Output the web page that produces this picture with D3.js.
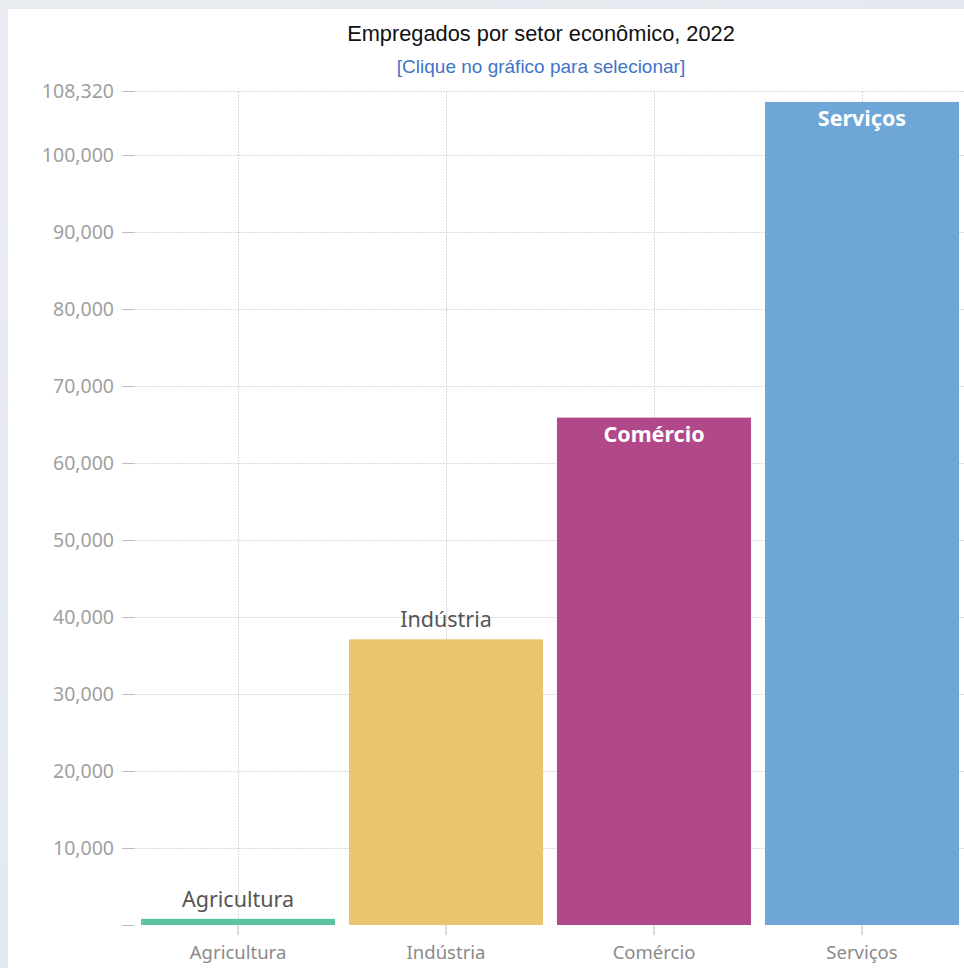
<!DOCTYPE html>
<html><head><meta charset="utf-8">
<script src="https://cdn.jsdelivr.net/npm/d3@7/dist/d3.min.js"></script>
<style>
html,body{margin:0;padding:0;background:#e6eaef;}
svg{display:block;}
</style></head>
<body>
<script>
const categories = ["Agricultura", "Indústria", "Comércio", "Serviços"];
const values = [800, 37100, 65900, 106900];
const colors = ["#5cc4a0", "#ebc46f", "#b0488a", "#6fa6d8"];
const yTicks = [10000, 20000, 30000, 40000, 50000, 60000, 70000, 80000, 90000, 100000, 108320];
const yMax = 108320;
const title = "Empregados por setor econômico, 2022";
const subtitle = "[Clique no gráfico para selecionar]";

const W = 964, H = 968;
const svg = d3.select("body").append("svg").attr("width", W).attr("height", H);

const defs = svg.append("defs");
const grad = defs.append("linearGradient").attr("id","bg").attr("x1","0").attr("y1","0").attr("x2","1").attr("y2","1");
grad.append("stop").attr("offset","0%").attr("stop-color","#e9edf2");
grad.append("stop").attr("offset","100%").attr("stop-color","#dfe5ec");
svg.append("rect").attr("width",W).attr("height",H).attr("fill","url(#bg)");
svg.append("rect").attr("x",8).attr("y",9).attr("width",W-8).attr("height",H-9).attr("fill","#ffffff");

const x = d3.scaleBand().domain(categories).range([134, 966]).paddingInner(0.067).paddingOuter(0.0337);
const y = d3.scaleLinear().domain([0, yMax]).range([925, 91]);

const sans = "Noto Sans, Open Sans, sans-serif";

// title
svg.append("text").attr("x", 541).attr("y", 41).attr("text-anchor","middle")
  .attr("font-family","Liberation Sans, Arial, sans-serif").attr("font-size",21.8).attr("fill","#111").text(title);
svg.append("text").attr("x", 541).attr("y", 73).attr("text-anchor","middle")
  .attr("font-family","Liberation Sans, Arial, sans-serif").attr("font-size",19).attr("fill","#3f74c8").text(subtitle);

// grid
const grid = svg.append("g");
grid.selectAll("line.h").data(yTicks).join("line")
  .attr("x1",134).attr("x2",W).attr("y1",d=>y(d)+0.5).attr("y2",d=>y(d)+0.5)
  .attr("stroke","#d9d9d9").attr("stroke-dasharray","2,1");
grid.selectAll("line.v").data(categories).join("line")
  .attr("x1",d=>x(d)+x.bandwidth()/2+0.5).attr("x2",d=>x(d)+x.bandwidth()/2+0.5)
  .attr("y1",91).attr("y2",925).attr("stroke","#d9d9d9").attr("stroke-dasharray","2,1");

// y axis
const yAxis = d3.axisLeft(y).tickValues([0].concat(yTicks)).tickSize(12).tickPadding(8)
  .tickFormat(d => d === 0 ? "" : d3.format(",")(d));
const ya = svg.append("g").attr("transform","translate(134,0)").call(yAxis);
ya.select(".domain").remove();
ya.selectAll(".tick line").attr("stroke","#bbb");
ya.selectAll(".tick text").attr("fill","#a0a0a0").attr("font-family",sans).attr("font-size",19.5);

// bars
svg.selectAll("rect.bar").data(categories).join("rect").attr("class","bar")
  .attr("x", d=>x(d)).attr("width", x.bandwidth())
  .attr("y", (d,i)=>y(values[i])).attr("height",(d,i)=>y(0)-y(values[i]))
  .attr("fill",(d,i)=>colors[i]);

// x axis
const xAxis = d3.axisBottom(x).tickSize(10).tickPadding(0);
const xa = svg.append("g").attr("transform","translate(0,925)").call(xAxis);
xa.select(".domain").remove();
xa.selectAll(".tick line").attr("stroke","#bbb");
xa.selectAll(".tick text").attr("fill","#8a8a8a").attr("font-family",sans).attr("font-size",18.5)
  .attr("dy",null).attr("y",34);

// bar labels
svg.selectAll("text.lbl").data(categories).join("text").attr("class","lbl")
  .attr("x", d=>x(d)+x.bandwidth()/2)
  .attr("y", (d,i)=> values[i] > 50000 ? y(values[i]) + 24 : y(values[i]) - 12)
  .attr("text-anchor","middle")
  .attr("font-family",sans).attr("font-size",21.5)
  .attr("font-weight",(d,i)=> values[i] > 50000 ? "bold" : "normal")
  .attr("fill",(d,i)=> values[i] > 50000 ? "#ffffff" : "#555555")
  .text(d=>d);
</script>
</body></html>
